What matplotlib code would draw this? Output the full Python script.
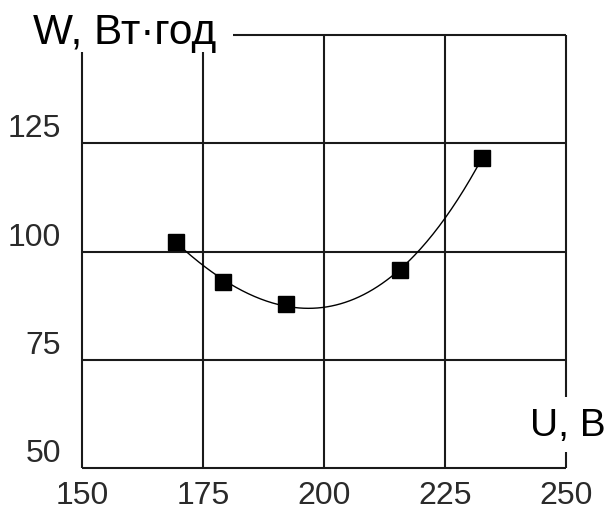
import numpy as np
import matplotlib.pyplot as plt
from matplotlib.transforms import ScaledTranslation

plt.rcParams['font.family'] = ['Liberation Sans', 'DejaVu Sans']

# measured points (U in volts, W in watt-hours)
u_vals = [169.4, 179.2, 192.1, 215.7, 232.7]
w_vals = [102.3, 93.0, 87.8, 95.7, 121.7]

x_ticks = [150, 175, 200, 225, 250]
y_ticks = [50, 75, 100, 125]

fig = plt.figure(figsize=(6.09, 5.13), dpi=100)
ax = fig.add_axes([82 / 609, 1 - 468 / 513, 484 / 609, 433 / 513])
ax.set_xlim(150, 250)
ax.set_ylim(50, 150)

for s in ax.spines.values():
    s.set_visible(False)

lc = '#1a1a1a'
lw = 1.5
# frame + grid, drawn by hand so the gaps for the axis labels stay open
ax.hlines([50, 75, 100, 125], 150, 250, color=lc, lw=lw, clip_on=False)
ax.hlines(150, 181.2, 250, color=lc, lw=lw, clip_on=False)
ax.vlines([150, 175], 50, 146, color=lc, lw=lw, clip_on=False)
ax.vlines([200, 225], 50, 150, color=lc, lw=lw, clip_on=False)
ax.vlines(250, 50, 53.7, color=lc, lw=lw, clip_on=False)
ax.vlines(250, 66.4, 150, color=lc, lw=lw, clip_on=False)

# smooth trend through the measurements
coef = np.polyfit(u_vals, w_vals, 3)
uu = np.linspace(min(u_vals), max(u_vals), 200)
ax.plot(uu, np.polyval(coef, uu), color='black', lw=1.0, zorder=3)
ax.plot(u_vals, w_vals, 's', color='black', ms=11.5, zorder=4)

tc = '#2a2a2a'
ax.set_xticks(x_ticks)
ax.set_yticks(y_ticks)
ax.set_xticklabels([str(v) for v in x_ticks], fontsize=23, color=tc)
ax.set_yticklabels([str(v) for v in y_ticks], fontsize=23, color=tc, va='baseline')
ax.tick_params(axis='both', length=0)
ax.tick_params(axis='x', pad=9)
ax.tick_params(axis='y', pad=15)
up = ScaledTranslation(0, 6 / 100, fig.dpi_scale_trans)
for lab in ax.get_yticklabels():
    lab.set_transform(lab.get_transform() + up)

fig.text(33 / 609, 1 - 44 / 513, 'W, Вт·год', fontsize=30.5, ha='left', va='baseline')
fig.text(530 / 609, 1 - 436 / 513, 'U, В', fontsize=28, ha='left', va='baseline')

fig.savefig('out.png', dpi=100)
